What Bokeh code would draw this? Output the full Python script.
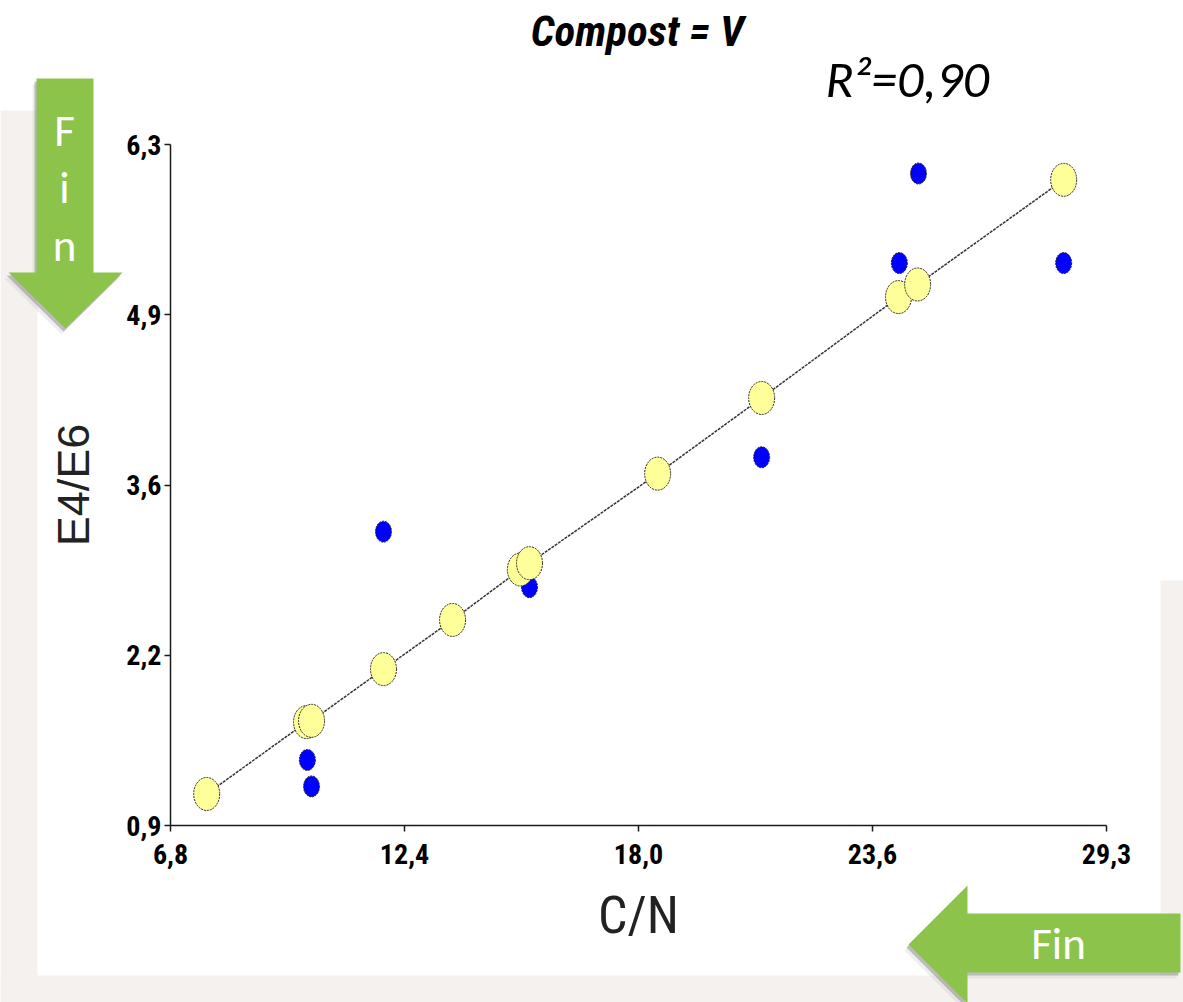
from bokeh.plotting import figure
from bokeh.models import Range1d, FixedTicker, Label
from bokeh.embed import file_html
from bokeh.resources import INLINE
import numpy as np

# --- data -------------------------------------------------------------
# fitted values (on the regression line)
fit_cn = [7.67, 10.07, 10.19, 11.92, 13.58, 15.21, 15.43, 18.51, 21.01, 24.30, 24.76, 28.27]
fit_e4e6 = [1.15, 1.72, 1.73, 2.14, 2.53, 2.93, 2.98, 3.69, 4.29, 5.09, 5.19, 6.02]

# observed values
obs_cn = [10.09, 10.19, 11.92, 15.43, 21.01, 24.32, 24.78, 28.27]
obs_e4e6 = [1.42, 1.21, 3.23, 2.79, 3.82, 5.36, 6.07, 5.36]

x_tick_labels = ["6,8", "12,4", "18,0", "23,6", "29,3"]
y_tick_labels = ["0,9", "2,2", "3,6", "4,9", "6,3"]

X_MIN, X_MAX = 6.8, 29.3
Y_MIN, Y_MAX = 0.9, 6.3

W, H = 1183, 1002
FL, FR, FT, FB = 170, 1106, 144, 825   # frame edges on the page

NARROW = "Roboto Condensed"
INK = "#1a1a1a"

# ======================= chart ========================================
p = figure(width=W, height=H, output_backend="svg", toolbar_location=None,
           x_range=Range1d(X_MIN, X_MAX), y_range=Range1d(Y_MIN, Y_MAX),
           min_border_left=FL, min_border_right=W - FR,
           min_border_top=FT, min_border_bottom=H - FB)
p.border_fill_color = "white"
p.background_fill_color = "white"
p.outline_line_color = None
p.grid.visible = False

xt = list(np.linspace(X_MIN, X_MAX, len(x_tick_labels)))
yt = list(np.linspace(Y_MIN, Y_MAX, len(y_tick_labels)))
p.xaxis.ticker = FixedTicker(ticks=xt)
p.yaxis.ticker = FixedTicker(ticks=yt)
p.xaxis.major_label_overrides = {t: s for t, s in zip(xt, x_tick_labels)}
p.yaxis.major_label_overrides = {t: s for t, s in zip(yt, y_tick_labels)}

for ax in (p.xaxis, p.yaxis):
    ax.axis_line_color = INK
    ax.axis_line_width = 1.5
    ax.major_tick_line_color = INK
    ax.major_tick_line_width = 1.5
    ax.major_tick_in = 0
    ax.major_tick_out = 6
    ax.minor_tick_line_color = None
    ax.major_label_text_font = NARROW
    ax.major_label_text_font_style = "bold"
    ax.major_label_text_font_size = "28px"
    ax.major_label_text_color = "black"
    ax.axis_label_text_font_style = "normal"
    ax.axis_label_text_color = "#222222"

p.xaxis.major_label_standoff = 12
p.yaxis.major_label_standoff = 3
p.xaxis.axis_label = "C/N"
p.xaxis.axis_label_text_font = NARROW
p.xaxis.axis_label_text_font_size = "52px"
p.xaxis.axis_label_standoff = 18
p.yaxis.axis_label = "E4/E6"
p.yaxis.axis_label_text_font = "Liberation Sans"
p.yaxis.axis_label_text_font_size = "45px"
p.yaxis.axis_label_standoff = 24

# regression line through the fitted values
order = np.argsort(fit_cn)
p.line([fit_cn[i] for i in order], [fit_e4e6[i] for i in order],
       line_color="#333333", line_width=1.5, line_dash="3 1")

p.ellipse(obs_cn, obs_e4e6, width=16, height=21, width_units="screen",
          height_units="screen", fill_color="#0000ff", line_color="#222222",
          line_width=1, line_dash="2 1")
p.ellipse(fit_cn, fit_e4e6, width=26, height=33, width_units="screen",
          height_units="screen", fill_color="#ffff99", line_color="#222222",
          line_width=1, line_dash="2 1")

# ======================= page decoration (overlay) ====================
# pixel-space canvas laid over the chart: y grows downwards
d = figure(width=W, height=H, output_backend="svg", toolbar_location=None,
           x_range=Range1d(0, W), y_range=Range1d(H, 0),
           x_axis_location=None, y_axis_location=None,
           min_border=0, min_border_left=0, min_border_right=0,
           min_border_top=0, min_border_bottom=0,
           styles={"position": "absolute", "top": "0px", "left": "0px"})
d.border_fill_alpha = 0
d.background_fill_alpha = 0
d.outline_line_color = None
d.grid.visible = False

# slide margins around the white sheet
PAGE = "#f4f1ee"
d.quad(left=[0, 0, 1160], right=[37, W, W], top=[110, 975, 580], bottom=[H, H, H],
       fill_color=PAGE, line_color=None)

down_arrow = [(36, 78), (93, 78), (93, 272), (122, 272), (65, 328), (8, 272), (36, 272)]
left_arrow = [(908, 944), (967, 885), (967, 913), (1180, 913), (1180, 972), (967, 972), (967, 1003)]

for shape in (down_arrow, left_arrow):
    xs = [a for a, b in shape]
    ys = [b for a, b in shape]
    d.patch([a - 4 for a in xs], [b + 6 for b in ys], fill_color="#c8c8c8", fill_alpha=0.3,
            line_color=None)
    d.patch([a - 2 for a in xs], [b + 3 for b in ys], fill_color="#8a8a8a", fill_alpha=0.5,
            line_color=None)
    d.patch(xs, ys, fill_color="#8cc34a", line_color=None)

# label baselines sit ~17 px lower than the given y on this canvas
SHIFT = 17
for ch, base in zip("Fin", (147, 204, 262)):
    d.add_layout(Label(x=64, y=base - SHIFT, text=ch, text_align="center",
                       text_baseline="alphabetic", text_font="Carlito",
                       text_font_size="45px", text_color="white"))
d.add_layout(Label(x=1058, y=960 - SHIFT, text="Fin", text_align="center",
                   text_baseline="alphabetic", text_font="Carlito",
                   text_font_size="45px", text_color="white"))

d.add_layout(Label(x=637, y=47 - SHIFT, text="Compost = V", text_align="center",
                   text_baseline="alphabetic", text_font=NARROW,
                   text_font_style="bold italic", text_font_size="43px", text_color="black"))
d.add_layout(Label(x=825, y=95 - SHIFT, text="R²=0,90", text_align="left",
                   text_baseline="alphabetic", text_font="Carlito",
                   text_font_style="italic", text_font_size="52px", text_color="black"))

open("out.html", "w").write(file_html([p, d], INLINE))
